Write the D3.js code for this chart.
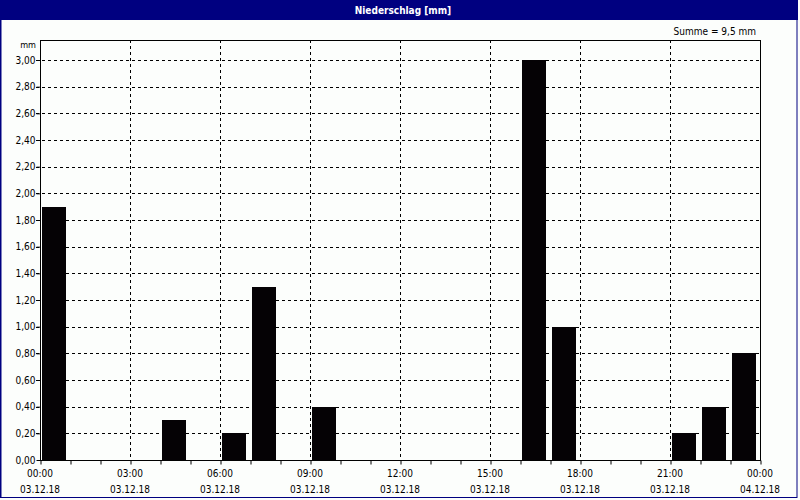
<!DOCTYPE html>
<html>
<head>
<meta charset="utf-8">
<script src="https://cdn.jsdelivr.net/npm/d3@7"></script>
<style>
html,body{margin:0;padding:0;background:#fff;}
svg{display:block;}
text{font-family:"DejaVu Sans Condensed","DejaVu Sans",Tahoma,sans-serif;font-stretch:condensed;}
</style>
</head>
<body>
<svg id="chart" width="800" height="500"></svg>
<script>
// Data
const hours = [0,1,2,3,4,5,6,7,8,9,10,11,12,13,14,15,16,17,18,19,20,21,22,23];
const precip = [1.9,0,0,0,0.3,0,0.2,1.3,0,0.4,0,0,0,0,0,0,3.0,1.0,0,0,0,0.2,0.4,0.8];
const yTicks = [0,0.2,0.4,0.6,0.8,1.0,1.2,1.4,1.6,1.8,2.0,2.2,2.4,2.6,2.8,3.0];
const xTickHours = [0,3,6,9,12,15,18,21,24];
const xTimeLabels = ["00:00","03:00","06:00","09:00","12:00","15:00","18:00","21:00","00:00"];
const xDateLabels = ["03.12.18","03.12.18","03.12.18","03.12.18","03.12.18","03.12.18","03.12.18","03.12.18","04.12.18"];
const title = "Niederschlag [mm]";
const unit = "mm";
const sumLabel = "Summe = 9,5 mm";

(function(){
const svg = d3.select("#chart");
const W = 800, H = 500;
const pL = 40, pR = 760, pT = 40, pB = 460;
const navy = "#000080";

svg.append("rect").attr("x",0).attr("y",0).attr("width",W).attr("height",H).attr("fill","#fcfefc");
// outer frame
svg.append("rect").attr("x",1).attr("y",0.5).attr("width",796).attr("height",497)
  .attr("fill","none").attr("stroke",navy).attr("stroke-width",1);
svg.append("line").attr("x1",0.5).attr("x2",0.5).attr("y1",0).attr("y2",498).attr("stroke",navy);
// title bar
svg.append("rect").attr("x",0).attr("y",0).attr("width",798).attr("height",20).attr("fill",navy);
svg.append("text").attr("x",403).attr("y",14).attr("text-anchor","middle")
  .attr("fill","#fff").attr("font-size",10).attr("font-weight","bold").text(title);

const x = d3.scaleLinear().domain([0,24]).range([pL,pR]);
const y = d3.scaleLinear().domain([0,3.15]).range([pB,pT]);

// horizontal grid
svg.append("g").selectAll("line").data(yTicks.filter(d=>d>0)).join("line")
  .attr("x1",pL-4).attr("x2",pR)
  .attr("y1",d=>Math.round(y(d))+0.5).attr("y2",d=>Math.round(y(d))+0.5)
  .attr("stroke","#000").attr("stroke-dasharray","3,3").attr("shape-rendering","crispEdges");
// vertical grid
svg.append("g").selectAll("line").data(xTickHours.filter(d=>d>0&&d<24)).join("line")
  .attr("x1",d=>x(d)+0.5).attr("x2",d=>x(d)+0.5)
  .attr("y1",pT).attr("y2",pB)
  .attr("stroke","#000").attr("stroke-dasharray","3,3").attr("shape-rendering","crispEdges");

// bars
svg.append("g").selectAll("rect").data(hours.map((h,i)=>({h,v:precip[i]})).filter(d=>d.v>0)).join("rect")
  .attr("x",d=>x(d.h)+2).attr("width",24)
  .attr("y",d=>Math.round(y(d.v))).attr("height",d=>pB-Math.round(y(d.v)))
  .attr("fill","#050205");

// frame
svg.append("rect").attr("x",pL+0.5).attr("y",pT+0.5).attr("width",pR-pL).attr("height",pB-pT)
  .attr("fill","none").attr("stroke","#000").attr("stroke-width",1).attr("shape-rendering","crispEdges");

// y axis labels
const yAxis = d3.axisLeft(y).tickValues(yTicks).tickSize(4).tickPadding(1)
  .tickFormat(d=>d3.format(".2f")(d).replace(".",","));
const gy = svg.append("g").attr("transform",`translate(${pL+0.5},0)`).call(yAxis);
gy.select(".domain").remove();
gy.selectAll("text").attr("font-size",10).attr("fill","#000").attr("font-family",null);
gy.selectAll("line").attr("stroke","#000");

// x axis ticks (hourly)
const xAxis = d3.axisBottom(x).tickValues(d3.range(0,25)).tickSize(4).tickFormat("");
const gx = svg.append("g").attr("transform",`translate(0.5,${pB+0.5})`).call(xAxis);
gx.select(".domain").remove();
gx.selectAll("line").attr("stroke","#000");

// x labels
const xl = svg.append("g");
xl.selectAll("text.t").data(xTickHours).join("text").attr("class","t")
  .attr("x",d=>x(d)).attr("y",477).attr("text-anchor","middle").attr("font-size",10).attr("fill","#000")
  .text((d,i)=>xTimeLabels[i]);
xl.selectAll("text.d").data(xTickHours).join("text").attr("class","d")
  .attr("x",d=>x(d)).attr("y",493).attr("text-anchor","middle").attr("font-size",10).attr("fill","#000")
  .text((d,i)=>xDateLabels[i]);

svg.append("text").attr("x",36).attr("y",48).attr("text-anchor","end").attr("font-size",9).attr("fill","#000").text(unit);
svg.append("text").attr("x",756).attr("y",35).attr("text-anchor","end").attr("font-size",10).attr("fill","#000").text(sumLabel);
})();
</script>
</body>
</html>
